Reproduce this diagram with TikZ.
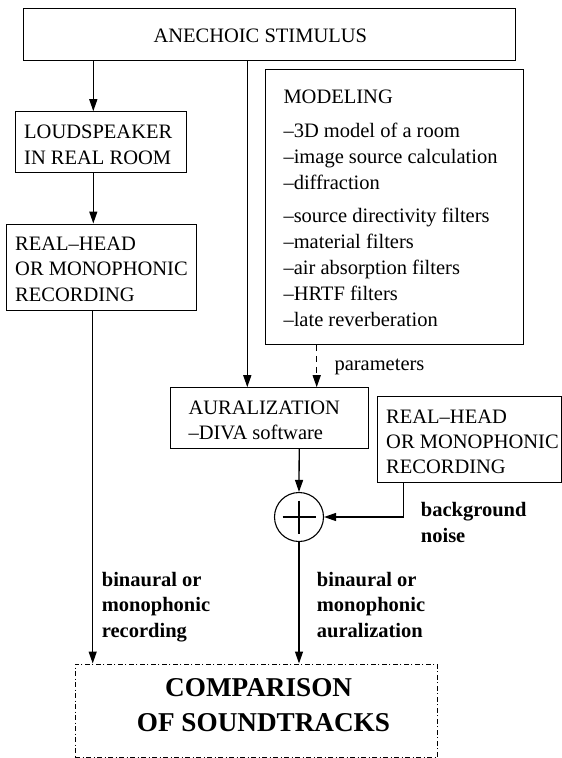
\documentclass[tikz,border=0pt]{standalone}
\usepackage{fontspec}
\setmainfont{Liberation Serif}
\usetikzlibrary{arrows.meta}
\begin{document}
\begin{tikzpicture}[x=1pt,y=-1pt,
  box/.style={draw, line width=1pt, rectangle, inner sep=0pt},
  txt/.style={anchor=base west, inner sep=0pt, font=\fontsize{20.5}{25.8}\selectfont},
  btxt/.style={anchor=base west, inner sep=0pt, font=\fontsize{20.5}{25.8}\selectfont\bfseries},
  arr/.style={line width=1.3pt, -{Triangle[length=12pt,width=8pt]}},
  dasharr/.style={arr, dash pattern=on 6pt off 5pt},
  dbox/.style={draw, line width=1pt, inner sep=0pt, dash pattern=on 5pt off 2.5pt on 1pt off 2.5pt},
  sumnode/.style={draw, circle, line width=1.1pt, minimum size=49pt, inner sep=0pt}
]
\useasboundingbox (0,0) rectangle (562,758);

% boxes
\node[box, minimum width=491.7pt, minimum height=52pt] (top) at (269.15,34.3) {};
\node[box, minimum width=171.7pt, minimum height=61pt] (ls) at (100.85,142.2) {};
\node[box, minimum width=189.3pt, minimum height=86pt] (rhL) at (101.35,267) {};
\node[box, minimum width=258.3pt, minimum height=275.3pt] (mod) at (394.15,206.65) {};
\node[box, minimum width=198.3pt, minimum height=60.6pt] (aur) at (269.15,418) {};
\node[box, minimum width=184pt, minimum height=85.6pt] (rhR) at (469.3,439.5) {};
\node[dbox, minimum width=362.3pt, minimum height=93.3pt] (comp) at (256.15,710.65) {};
\node[sumnode] (sum) at (299,517) {};
\draw[line width=1.1pt] (sum.center) ++(-16.5,0) -- ++(33,0);
\draw[line width=1.1pt] (sum.center) ++(0,-16.5) -- ++(0,33);

% texts
\node[txt] (topT) at (153.3,42.7) {ANECHOIC STIMULUS};
\node[txt] (lsT) at (24,138.3) {\vtop{\baselineskip=25.7pt\hbox{LOUDSPEAKER}\hbox{IN REAL ROOM}}};
\node[txt] (rhLT) at (15,250) {\vtop{\baselineskip=25.85pt\hbox{REAL–HEAD}\hbox{OR MONOPHONIC}\hbox{RECORDING}}};
\node[txt] (modT) at (283.3,103.3) {\vtop{\baselineskip=26pt
  \hbox{MODELING}\vskip8pt
  \hbox{–3D model of a room}
  \hbox{–image source calculation}
  \hbox{–diffraction}\vskip7.4pt
  \hbox{–source directivity filters}
  \hbox{–material filters}
  \hbox{–air absorption filters}
  \hbox{–HRTF filters}
  \hbox{–late reverberation}}};
\node[txt] (parT) at (334.3,370) {parameters};
\node[txt] (aurT) at (188.3,414) {\vtop{\baselineskip=25.3pt\hbox{AURALIZATION}\hbox{–DIVA software}}};
\node[txt] (rhRT) at (386,423.3) {\vtop{\baselineskip=25pt\hbox{REAL–HEAD}\hbox{OR MONOPHONIC}\hbox{RECORDING}}};
\node[btxt] (bgT) at (420.7,516.7) {\vtop{\baselineskip=26pt\hbox{background}\hbox{noise}}};
\node[btxt] (recT) at (101.7,586) {\vtop{\baselineskip=25.7pt\hbox{binaural or}\hbox{monophonic}\hbox{recording}}};
\node[btxt] (aurLT) at (316.7,586) {\vtop{\baselineskip=25.7pt\hbox{binaural or}\hbox{monophonic}\hbox{auralization}}};
\node[anchor=base west, inner sep=0pt, font=\fontsize{27.2}{35}\selectfont\bfseries] (compT) at (136.7,696.7)
  {\vtop{\baselineskip=35pt\hbox{\hskip28.3pt COMPARISON}\hbox{OF SOUNDTRACKS}}};

% connector positions
\coordinate (xa) at (93.3,0);
\coordinate (xb) at (92.7,0);
\coordinate (xc) at (247.3,0);
\coordinate (xd) at (316.7,0);
\coordinate (xe) at (299.2,0);
\coordinate (xf) at (403.3,0);

% connectors
\draw[arr] (xa |- top.south) -- (xa |- ls.north);
\draw[arr] (xa |- ls.south) -- (xa |- rhL.north);
\draw[arr] (xb |- rhL.south) -- (xb |- comp.north);
\draw[arr] (xc |- top.south) -- (xc |- aur.north);
\draw[dasharr] (xd |- mod.south) -- (xd |- aur.north);
\draw[arr] (xe |- aur.south) -- (sum.north);
\draw[arr] (xf |- rhR.south) |- (sum.east);
\draw[arr] (sum.south) -- (sum.south |- comp.north);
\end{tikzpicture}
\end{document}
